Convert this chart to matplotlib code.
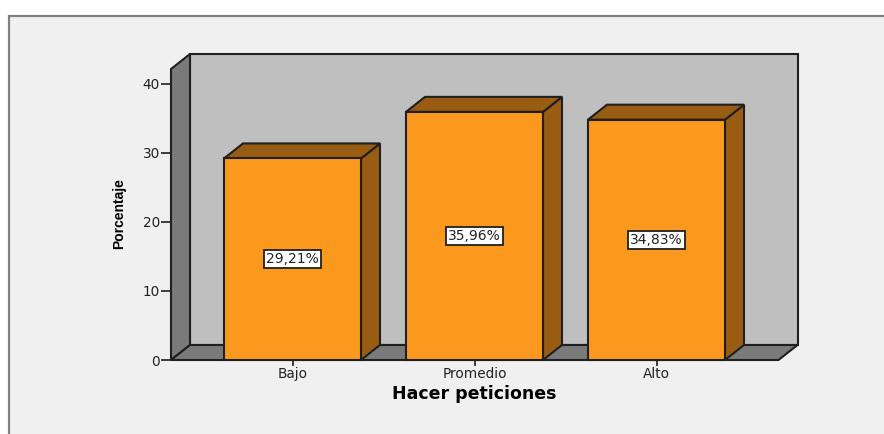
import numpy as np
import matplotlib
matplotlib.use("Agg")
import matplotlib.pyplot as plt
from matplotlib.patches import Polygon, Rectangle

categories = ['Bajo', 'Promedio', 'Alto']
values = [29.21, 35.96, 34.83]
value_labels = ['29,21%', '35,96%', '34,83%']
y_ticks = [0, 10, 20, 30, 40]

W, H = 884, 434
PX_X = 182.0   # pixels per category
PX_Y = 6.9     # pixels per percent
DX = 19 / PX_X
DY = 15 / PX_Y
BAR_W = 137 / PX_X

ORANGE = '#fb991f'
BROWN = '#985c12'
WALL = '#bfbfbf'
SIDE = '#7a7a7a'
EDGE = '#1f1f1f'


def poly(ax, pts, color, z=1):
    ax.add_patch(Polygon(pts, closed=True, facecolor=color, edgecolor=EDGE,
                         linewidth=1.5, joinstyle='miter', clip_on=False, zorder=z))


def main():
    plt.rcParams['font.family'] = ['DejaVu Sans']
    fig = plt.figure(figsize=(W / 100, H / 100), dpi=100, facecolor='white')

    # grey panel behind the chart
    fig.add_artist(Rectangle((8.5 / W, -0.02), 1.0, 1 - 15.5 / H + 0.02, transform=fig.transFigure,
                             facecolor='#f0f0f0', edgecolor='#808080', linewidth=1.6, zorder=-1))

    ax = fig.add_axes([171 / W, 1 - 360 / H, (778.5 - 171) / W, 291 / H])
    ax.patch.set_visible(False)
    x0 = -121.5 / PX_X
    x1 = x0 + 607.5 / PX_X
    top = 291 / PX_Y
    ax.set_xlim(x0, x1)
    ax.set_ylim(0, top)
    for s in ax.spines.values():
        s.set_visible(False)

    # back wall, left wall, floor
    poly(ax, [(x0 + DX, DY), (x1 + DX, DY), (x1 + DX, top + DY), (x0 + DX, top + DY)], WALL, 1)
    poly(ax, [(x0, 0), (x0 + DX, DY), (x0 + DX, top + DY), (x0, top)], SIDE, 2)
    poly(ax, [(x0, 0), (x1, 0), (x1 + DX, DY), (x0 + DX, DY)], SIDE, 2)

    for i, (v, lab) in enumerate(zip(values, value_labels)):
        l, r = i - BAR_W / 2, i + BAR_W / 2
        poly(ax, [(r, 0), (r + DX, DY), (r + DX, v + DY), (r, v)], BROWN, 3)
        poly(ax, [(l, v), (r, v), (r + DX, v + DY), (l + DX, v + DY)], BROWN, 3)
        ax.bar(i, v, width=BAR_W, color=ORANGE, edgecolor=EDGE, linewidth=1.5, zorder=4, clip_on=False)
        ax.text(i, v / 2, lab, ha='center', va='center', fontsize=10, color='#222222', zorder=5,
                bbox=dict(boxstyle='square,pad=0.14', facecolor='white', edgecolor=EDGE, linewidth=1.3))

    ax.set_xticks(range(len(categories)))
    ax.set_xticklabels(categories)
    ax.set_yticks(y_ticks)
    ax.tick_params(axis='x', length=4.5, width=1.2, color=EDGE, labelsize=9.8, labelcolor='#222222', pad=0.5)
    ax.tick_params(axis='y', length=7.5, width=1.2, color=EDGE, labelsize=9.8, labelcolor='#222222', pad=0.5)

    ax.set_xlabel('Hacer peticiones', fontsize=12.5, fontweight='bold', labelpad=3)
    ax.xaxis.label.set_position(((474.5 - 171) / 607.5, 0))
    fig.text(119.5 / W, 1 - 214 / H, 'Porcentaje', rotation=90, ha='center', va='center',
             fontsize=10, fontweight='bold', family='Liberation Sans')

    fig.savefig('out.png', dpi=100, facecolor='white')


if __name__ == "__main__":
    main()
